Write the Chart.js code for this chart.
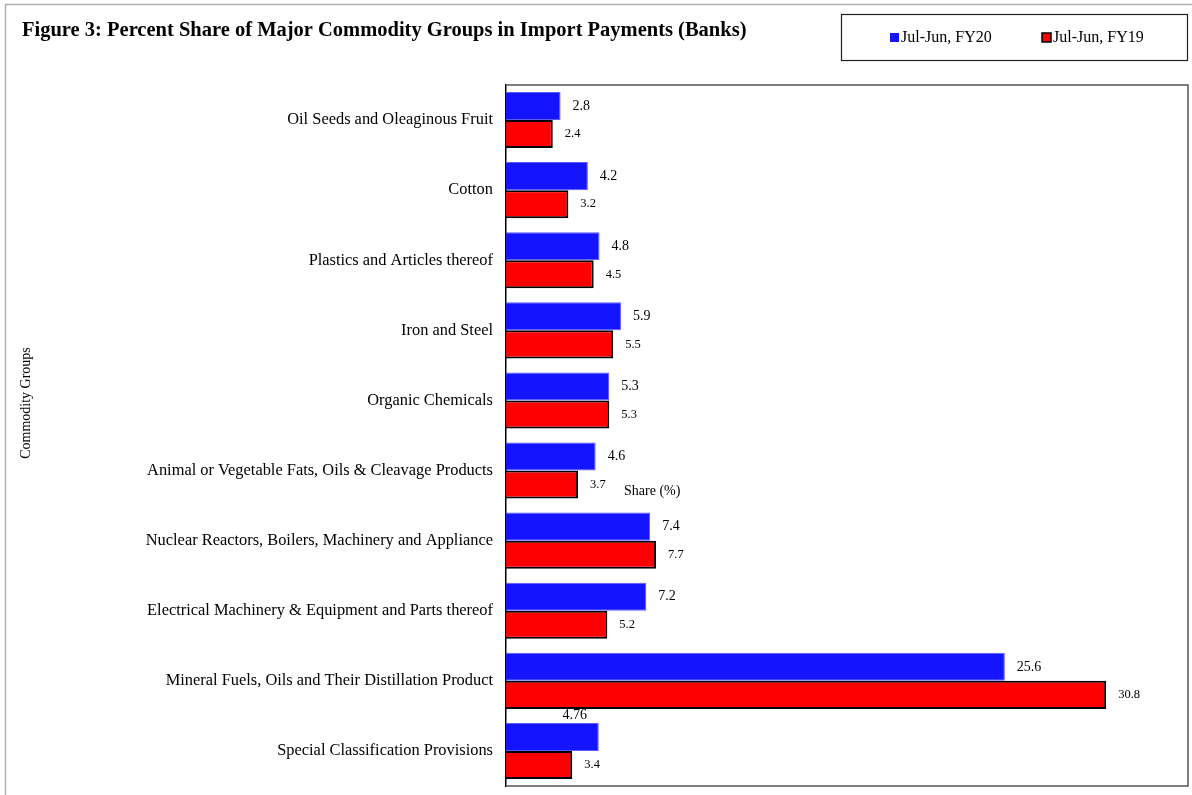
<!DOCTYPE html>
<html>
<head>
<meta charset="utf-8">
<script src="https://cdn.jsdelivr.net/npm/chart.js@4.4.0/dist/chart.umd.min.js"></script>
<style>
  html, body { margin: 0; padding: 0; background: #fff; }
</style>
</head>
<body>
<canvas id="shareChart" width="1192" height="795"></canvas>
<script>
// Commodity groups, top to bottom
var groups = [
    'Oil Seeds and Oleaginous Fruit',
    'Cotton',
    'Plastics and Articles thereof',
    'Iron and Steel',
    'Organic Chemicals',
    'Animal or Vegetable Fats, Oils & Cleavage Products',
    'Nuclear Reactors, Boilers, Machinery and Appliance',
    'Electrical Machinery & Equipment and Parts thereof',
    'Mineral Fuels, Oils and Their Distillation Product',
    'Special Classification Provisions'
];
var fy20 = [2.8, 4.2, 4.8, 5.9, 5.3, 4.6, 7.4, 7.2, 25.6, 4.76];
var fy19 = [2.4, 3.2, 4.5, 5.5, 5.3, 3.7, 7.7, 5.2, 30.8, 3.4];
var seriesNames = ['Jul-Jun, FY20', 'Jul-Jun, FY19'];

var serif = '"Liberation Serif", "Times New Roman", serif';

// draws frame, title, legend box, value labels and the axis captions
var decorations = {
    id: 'decorations',
    afterDatasetsDraw: function (chart) {
        var ctx = chart.ctx;
        var area = chart.chartArea;
        ctx.save();

        // outer frame
        ctx.strokeStyle = '#b0b0b0';
        ctx.lineWidth = 1.5;
        ctx.beginPath();
        ctx.moveTo(5.5, 795);
        ctx.lineTo(5.5, 4.5);
        ctx.lineTo(1192, 4.5);
        ctx.stroke();

        // plot area box (left side is the y axis)
        ctx.strokeStyle = '#555';
        ctx.lineWidth = 1.5;
        ctx.beginPath();
        ctx.moveTo(area.left, area.top);
        ctx.lineTo(area.right, area.top);
        ctx.lineTo(area.right, area.bottom);
        ctx.lineTo(area.left, area.bottom);
        ctx.stroke();

        // title
        ctx.fillStyle = '#000';
        ctx.font = 'bold 20.5px ' + serif;
        ctx.textAlign = 'left';
        ctx.textBaseline = 'middle';
        ctx.fillText('Figure 3: Percent Share of Major Commodity Groups in Import Payments (Banks)', 22, 31);

        // legend box
        ctx.strokeStyle = '#222';
        ctx.lineWidth = 1.2;
        ctx.strokeRect(841.5, 14.5, 346, 46);
        ctx.font = '16px ' + serif;
        var lx = [890, 1042];
        chart.data.datasets.forEach(function (ds, i) {
            ctx.fillStyle = ds.backgroundColor;
            ctx.fillRect(lx[i], 33, 9, 9);
            if (ds.borderColor === '#000000') {
                ctx.strokeStyle = '#000';
                ctx.lineWidth = 1.5;
                ctx.strokeRect(lx[i], 33, 9, 9);
            }
            ctx.fillStyle = '#000';
            ctx.fillText(ds.label, lx[i] + 11, 38);
        });

        // value labels
        chart.data.datasets.forEach(function (ds, i) {
            var meta = chart.getDatasetMeta(i);
            ctx.font = (i === 0 ? '14px ' : '12.5px ') + serif;
            meta.data.forEach(function (bar, j) {
                var txt = String(ds.data[j]);
                ctx.fillStyle = '#000';
                if (i === 0 && j === groups.length - 1) {
                    // this one sits above its bar in the original
                    ctx.textAlign = 'center';
                    ctx.fillText(txt, bar.x - 24, bar.y - bar.height / 2 - 8);
                } else {
                    ctx.textAlign = 'left';
                    ctx.fillText(txt, bar.x + 12, bar.y);
                }
            });
        });

        // x axis caption, left where it was in the original
        ctx.font = '14px ' + serif;
        ctx.textAlign = 'left';
        ctx.fillText('Share (%)', area.left + 118, 491);

        // y axis caption
        ctx.translate(26, 403);
        ctx.rotate(-Math.PI / 2);
        ctx.textAlign = 'center';
        ctx.fillText('Commodity Groups', 0, 0);

        ctx.restore();
    }
};

var ctx = document.getElementById('shareChart').getContext('2d');
var shareChart = new Chart(ctx, {
    type: 'bar',
    data: {
        labels: groups,
        datasets: [{
            label: seriesNames[0],
            data: fy20,
            backgroundColor: '#1414ff',
            borderColor: '#5a5aff',
            borderWidth: 1,
            categoryPercentage: 0.8,
            barPercentage: 1.0
        }, {
            label: seriesNames[1],
            data: fy19,
            backgroundColor: '#ff0000',
            borderColor: '#000000',
            borderWidth: 2,
            categoryPercentage: 0.8,
            barPercentage: 1.0
        }]
    },
    options: {
        indexAxis: 'y',
        responsive: false,
        animation: false,
        layout: {
            padding: { left: 15, top: 85, right: 4, bottom: 9 }
        },
        plugins: {
            legend: { display: false },
            tooltip: { enabled: false }
        },
        scales: {
            x: {
                display: false,
                min: 0,
                max: 35
            },
            y: {
                grid: { display: false, drawTicks: false },
                border: { display: true, color: '#000', width: 1.5 },
                ticks: {
                    color: '#000',
                    font: { family: serif, size: 16.4 },
                    padding: 13
                },
                afterFit: function (scale) {
                    scale.width = 491;
                    scale.paddingTop = 0;
                    scale.paddingBottom = 0;
                }
            }
        }
    },
    plugins: [decorations]
});
</script>
</body>
</html>
